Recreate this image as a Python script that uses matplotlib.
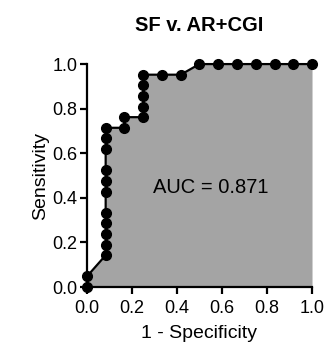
import matplotlib
matplotlib.use("Agg")
import matplotlib.pyplot as plt
import numpy as np

plt.rcParams['font.family'] = ['Liberation Sans', 'DejaVu Sans']

title = "SF v. AR+CGI"
# 1 - specificity (fractions of 12 controls) and sensitivity (fractions of 21 cases)
fpr = [0, 0, 1/12, 1/12, 1/12, 1/12, 1/12, 1/12, 1/12, 1/12, 1/12, 1/12, 1/12,
       2/12, 2/12, 3/12, 3/12, 3/12, 3/12, 3/12, 4/12, 5/12, 6/12, 7/12, 8/12,
       9/12, 10/12, 11/12, 1.0]
tpr = [0, 1/21, 3/21, 4/21, 5/21, 6/21, 7/21, 9/21, 10/21, 11/21, 13/21, 14/21, 15/21,
       15/21, 16/21, 16/21, 17/21, 18/21, 19/21, 20/21, 20/21, 20/21, 1, 1, 1,
       1, 1, 1, 1]
auc_label = "AUC = 0.871"
ticks = [0.0, 0.2, 0.4, 0.6, 0.8, 1.0]

fig = plt.figure(figsize=(3.33, 3.54), dpi=100)
ax = fig.add_axes([0.261, 0.189, 0.676, 0.630])

fx = np.array(fpr)
fy = np.array(tpr)
ax.fill_between(fx, fy, 0, color='#a4a4a4', linewidth=0, zorder=1)
ax.plot(fx, fy, color='black', linewidth=1.6, marker='o', markersize=7,
        clip_on=False, zorder=3)

ax.set_xlim(0, 1)
ax.set_ylim(0, 1)
ax.set_xticks(ticks)
ax.set_yticks(ticks)
ax.set_xticklabels([f"{t:.1f}" for t in ticks])
ax.set_yticklabels([f"{t:.1f}" for t in ticks])
for s in ['top', 'right']:
    ax.spines[s].set_visible(False)
for s in ['left', 'bottom']:
    ax.spines[s].set_linewidth(1.6)
ax.tick_params(axis='both', direction='out', length=5, width=1.6, labelsize=13)
ax.tick_params(axis='x', pad=4)
ax.tick_params(axis='y', pad=2)
ax.set_xlabel("1 - Specificity", fontsize=14, labelpad=6)
ax.set_ylabel("Sensitivity", fontsize=14, labelpad=2)
ax.set_title(title, fontsize=14.5, fontweight='bold', pad=24)
ax.text(0.551, 0.448, auc_label, fontsize=14.5, ha='center', va='center', zorder=4)

fig.savefig("out.png", dpi=100)
